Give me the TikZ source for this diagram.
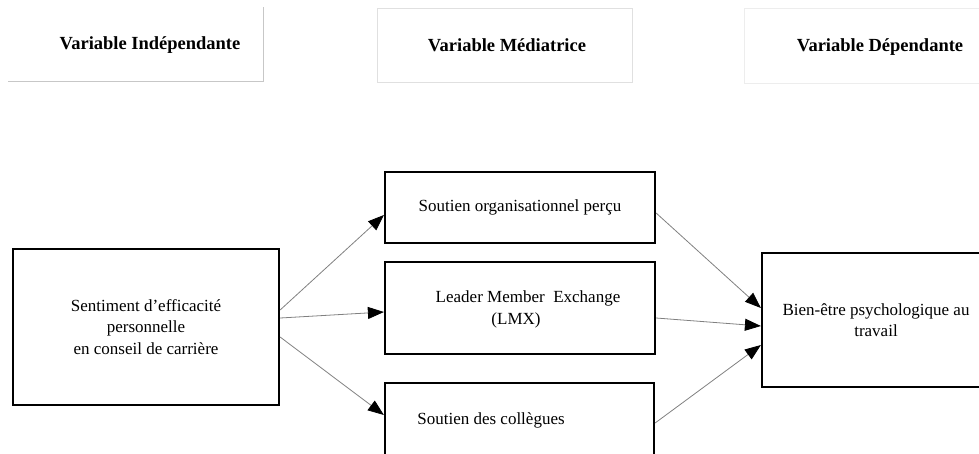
\documentclass[tikz,border=0pt]{standalone}
\usepackage{fontspec}
\setmainfont{Liberation Serif}
\usetikzlibrary{arrows.meta}
\begin{document}
\begin{tikzpicture}[x=1pt,y=-1pt,
  box/.style={draw=black,line width=2.2pt,inner sep=0pt,align=center,
    font=\fontsize{17}{21.5}\selectfont},
  txt/.style={font=\fontsize{17}{21.5}\selectfont,align=center,inner sep=0pt},
  hdr/.style={font=\fontsize{18.5}{21}\selectfont\bfseries,inner sep=0pt},
  hbox/.style={line width=1pt,inner sep=0pt},
  conn/.style={draw=black!50,line width=0.8pt,
    -{Triangle[length=16pt,width=12pt,color=black]}}]
\useasboundingbox (0,0) rectangle (979,453);

% header boxes
\draw[black!22,line width=1pt] (8,81) -- (263,81) -- (263,7);
\node[hdr] (h1) at (150,45) {Variable Indépendante};
\node[hbox,draw=black!12,minimum width=255pt,minimum height=74pt] (h2) at (504.5,45) {};
\node[hdr] (h2t) at (507,45) {Variable Médiatrice};
\node[hbox,draw=black!7,minimum width=246pt,minimum height=75pt] (h3) at (867,45.5) {};
\node[hdr] (h3t) at (880,47) {Variable Dépendante};

% main boxes
\node[box,minimum width=266pt,minimum height=156pt] (sef) at (146,327)
  {Sentiment d’efficacité\\personnelle\\en conseil de carrière};
\node[box,minimum width=270pt,minimum height=71pt] (sop) at (520,207.5)
  {Soutien organisationnel perçu};
\node[box,minimum width=270pt,minimum height=92pt] (lmx) at (520,308) {};
\node[txt] (lmxa) at (528,298) {Leader Member~~Exchange};
\node[txt] (lmxb) at (516,320) {(LMX)};
\node[box,minimum width=269pt,minimum height=87pt] (sdc) at (519.5,426.5) {};
\node[txt] (sdct) at (491,420) {Soutien des collègues};
\node[box,minimum width=228pt,minimum height=134pt] (bet) at (876,320)
  {Bien-être psychologique au\\travail};

% connectors
\draw[conn] ([yshift=17pt]sef.east) -- ([yshift=-7.5pt]sop.west);
\draw[conn] ([yshift=9pt]sef.east) -- ([yshift=-4pt]lmx.west);
\draw[conn] ([yshift=-10pt]sef.east) -- ([yshift=11.5pt]sdc.west);
\draw[conn] ([yshift=-5.5pt]sop.east) -- ([yshift=12pt]bet.west);
\draw[conn] ([yshift=-10pt]lmx.east) -- ([yshift=-6pt]bet.west);
\draw[conn] ([yshift=3.5pt]sdc.east) -- ([yshift=-25pt]bet.west);
\end{tikzpicture}
\end{document}
